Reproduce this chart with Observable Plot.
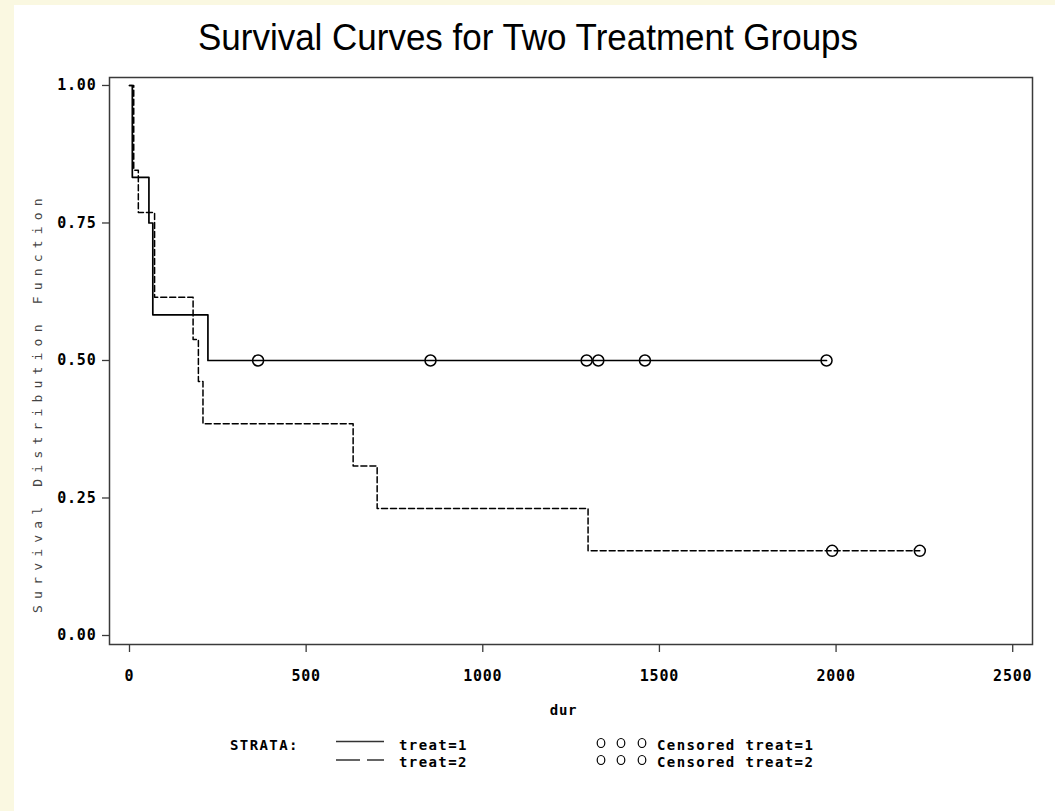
<!DOCTYPE html>
<html>
<head>
<meta charset="utf-8">
<script src="https://cdn.jsdelivr.net/npm/d3@7"></script>
<script src="https://cdn.jsdelivr.net/npm/@observablehq/plot@0.6"></script>
<style>
  html, body { margin: 0; padding: 0; }
  body { width: 1055px; height: 811px; background: #FAF8E1; position: relative; overflow: hidden; }
  #panel { position: absolute; left: 14px; top: 5px; width: 1041px; height: 806px; background: #fff; }
  #chart { position: absolute; left: 14px; top: 65px; }
  #overlay { position: absolute; left: 0; top: 0; pointer-events: none; }
  .mono { font-family: "DejaVu Sans Mono", monospace; font-weight: bold; font-size: 14px; letter-spacing: 1.4px; fill: #000; }
</style>
</head>
<body>
<div id="panel"></div>
<div id="chart"></div>
<svg id="overlay" width="1055" height="811"></svg>
<script>
// ---- data ----
const titleText = "Survival Curves for Two Treatment Groups";
const xLabel = "dur";
const yLabel = "Survival Distribution Function";
const xTicks = [0, 500, 1000, 1500, 2000, 2500];
const yTicks = [0, 0.25, 0.5, 0.75, 1];

// treat=1 : step change times and survival after each
const treat1Time = [0, 8, 55, 66, 222, 1973];
const treat1Surv = [1, 0.833, 0.75, 0.583, 0.5, 0.5];
const treat1CensTime = [364, 852, 1294, 1327, 1459, 1973];
const treat1CensSurv = [0.5, 0.5, 0.5, 0.5, 0.5, 0.5];

// treat=2
const treat2Time = [0, 12, 25, 71, 180, 195, 208, 633, 701, 1298, 2237];
const treat2Surv = [1, 0.846, 0.769, 0.615, 0.538, 0.462, 0.385, 0.308, 0.231, 0.154, 0.154];
const treat2CensTime = [1989, 2237];
const treat2CensSurv = [0.154, 0.154];

const legendStrata = ["treat=1", "treat=2"];
const legendCensored = ["Censored treat=1", "Censored treat=2"];

// ---- build tables ----
const zip = (ts, ss) => ts.map((t, i) => ({t, s: ss[i]}));
const line1 = zip(treat1Time, treat1Surv);
const line2 = zip(treat2Time, treat2Surv);
const cens1 = zip(treat1CensTime, treat1CensSurv);
const cens2 = zip(treat2CensTime, treat2CensSurv);

const chart = Plot.plot({
  width: 1041,
  height: 665,
  marginLeft: 95,
  marginRight: 23,
  marginTop: 12,
  marginBottom: 86,
  style: "font-family: 'DejaVu Sans Mono', monospace; font-size: 15px; font-weight: bold; letter-spacing: 0.8px; color: #000; background: transparent; overflow: visible;",
  x: {domain: [-56.6, 2556], label: null},
  y: {domain: [-0.01636, 1.0145], label: null},
  marks: [
    Plot.frame({stroke: "#3a3a3a", strokeWidth: 1.5}),
    Plot.axisX({ticks: xTicks, tickSize: 8, tickPadding: 18, tickFormat: d => String(d), stroke: "#3a3a3a", strokeWidth: 1.3, label: null}),
    Plot.axisY({ticks: yTicks, tickSize: 7, tickPadding: 6, tickFormat: d3.format(".2f"), stroke: "#3a3a3a", strokeWidth: 1.3, label: null}),
    Plot.line(line1, {x: "t", y: "s", curve: "step-after", stroke: "#000", strokeWidth: 1.7}),
    Plot.line(line2, {x: "t", y: "s", curve: "step-after", stroke: "#000", strokeWidth: 1.5, strokeDasharray: "6,3"}),
    Plot.dot(cens1, {x: "t", y: "s", r: 5.5, stroke: "#000", strokeWidth: 1.5, fill: "none"}),
    Plot.dot(cens2, {x: "t", y: "s", r: 5.5, stroke: "#000", strokeWidth: 1.5, fill: "none"}),
    Plot.text([xLabel], {frameAnchor: "bottom", dx: -7.5, dy: 70, fontSize: 14, fontWeight: "bold"}),
    Plot.text([yLabel], {frameAnchor: "left", textAnchor: "middle", dx: -72, dy: 41.5, rotate: -90, fontSize: 13, fontWeight: "normal", fill: "#444"})
  ]
});
d3.select(chart).selectAll("text").filter(function() { return this.textContent === yLabel; })
  .style("letter-spacing", "6.2px");
document.getElementById("chart").appendChild(chart);

// ---- title and legend (overlay) ----
const ov = d3.select("#overlay");
ov.append("text").attr("x", 528).attr("y", 50).attr("text-anchor", "middle")
  .attr("textLength", 660).attr("lengthAdjust", "spacingAndGlyphs")
  .style("font-family", "'Liberation Sans Narrow', 'Arial Narrow', 'Liberation Sans', sans-serif")
  .style("font-size", "37px").attr("fill", "#000").text(titleText);

ov.append("text").attr("class", "mono").attr("x", 230).attr("y", 750).text("STRATA:");
// strata samples
ov.append("line").attr("x1", 336).attr("x2", 384).attr("y1", 741.5).attr("y2", 741.5)
  .attr("stroke", "#333").attr("stroke-width", 1.5);
ov.append("line").attr("x1", 336).attr("x2", 384).attr("y1", 760).attr("y2", 760)
  .attr("stroke", "#333").attr("stroke-width", 1.5).attr("stroke-dasharray", "24,7");
legendStrata.forEach((s, i) => {
  ov.append("text").attr("class", "mono").attr("x", 399).attr("y", 750 + i * 17).text(s);
});
legendCensored.forEach((s, i) => {
  [601, 621, 642].forEach(cx => {
    ov.append("ellipse").attr("cx", cx).attr("cy", 743 + i * 17).attr("rx", 3.8).attr("ry", 4.5)
      .attr("fill", "none").attr("stroke", "#000").attr("stroke-width", 1.2);
  });
  ov.append("text").attr("class", "mono").attr("x", 657).attr("y", 750 + i * 17).text(s);
});
</script>
</body>
</html>
